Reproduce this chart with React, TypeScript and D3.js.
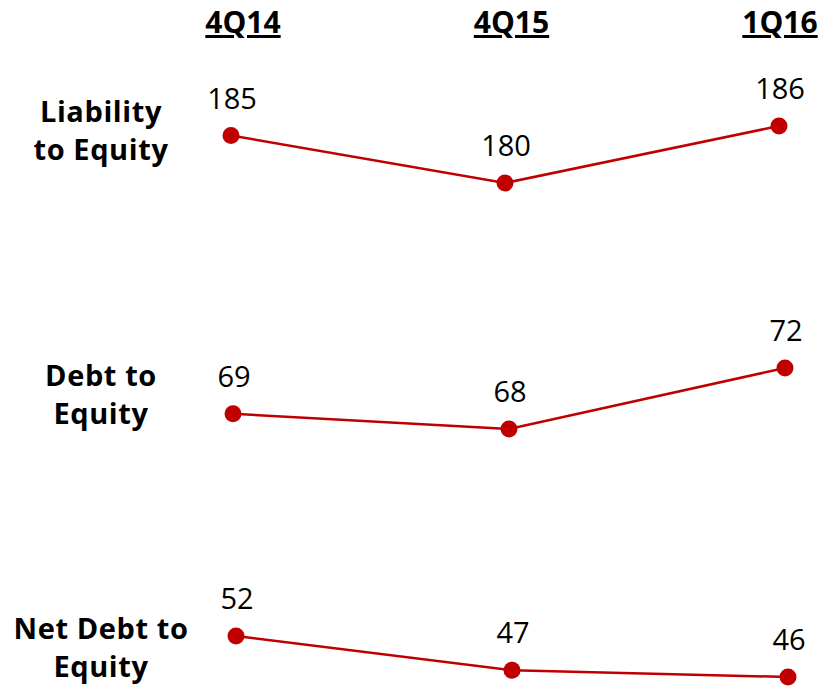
import React from "react";
import * as d3 from "d3";

const periods = ["4Q14", "4Q15", "1Q16"];
const rowLabels = [["Liability", "to Equity"], ["Debt to", "Equity"], ["Net Debt to", "Equity"]];
const liabilityToEquity = [185, 180, 186];
const debtToEquity = [69, 68, 72];
const netDebtToEquity = [52, 47, 46];
const series = [liabilityToEquity, debtToEquity, netDebtToEquity];

const W = 823;
const H = 686;
const RED = "#C00000";
const FONT = "'Open Sans', 'Noto Sans', sans-serif";

const panels = [
  { domain: [180, 186], yRange: [183, 126], xRange: [231, 779], label: [122, 160] },
  { domain: [68, 72], yRange: [429, 368], xRange: [233, 785], label: [386, 424] },
  { domain: [46, 52], yRange: [677, 636], xRange: [236, 788], label: [639, 677] },
];

export default function App() {
  const headerX = d3.scalePoint<string>().domain(periods).range([243, 780]);
  return (
    <svg width={W} height={H} style={{ display: "block", position: "absolute", left: 0, top: 0 }}>
      <rect width={W} height={H} fill="#fff" />
      {periods.map((p) => (
        <text
          key={p}
          x={headerX(p)}
          y={33}
          textAnchor="middle"
          fontFamily={FONT}
          fontWeight="bold"
          fontSize={30}
          textDecoration="underline"
          fill="#000"
        >
          {p}
        </text>
      ))}
      {series.map((vals, i) => {
        const cfg = panels[i];
        const x = d3.scalePoint<string>().domain(periods).range(cfg.xRange as [number, number]);
        const y = d3.scaleLinear().domain(cfg.domain).range(cfg.yRange);
        const line = d3
          .line<number>()
          .x((_, j) => x(periods[j]) as number)
          .y((v) => y(v));
        return (
          <g key={i}>
            {rowLabels[i].map((t, k) => (
              <text
                key={k}
                x={101}
                y={cfg.label[k]}
                textAnchor="middle"
                fontFamily={FONT}
                fontWeight="bold"
                fontSize={29}
                letterSpacing={0.6}
                fill="#000"
              >
                {t}
              </text>
            ))}
            <path d={line(vals) || ""} fill="none" stroke={RED} strokeWidth={2.5} />
            {vals.map((v, j) => (
              <g key={j}>
                <circle cx={x(periods[j])} cy={y(v)} r={8.5} fill={RED} />
                <text
                  x={(x(periods[j]) as number) + 1}
                  y={y(v) - 27}
                  textAnchor="middle"
                  fontFamily={FONT}
                  fontSize={29}
                  fill="#000"
                >
                  {v}
                </text>
              </g>
            ))}
          </g>
        );
      })}
    </svg>
  );
}
